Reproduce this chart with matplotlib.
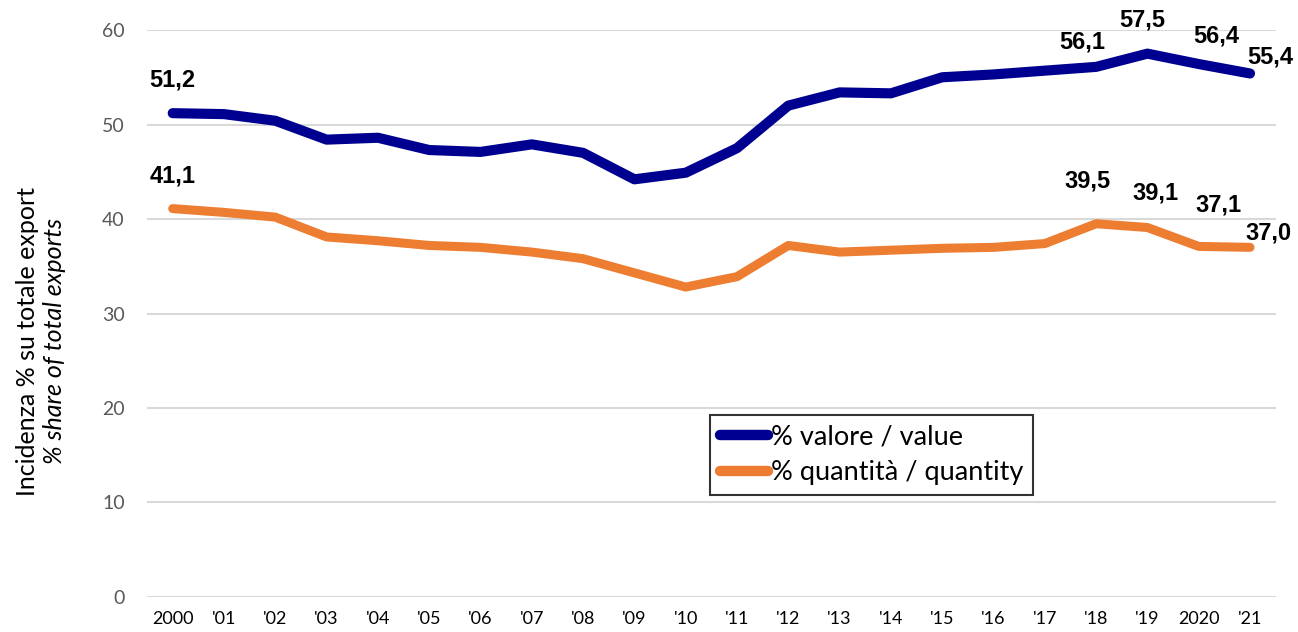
import matplotlib.pyplot as plt

plt.rcParams['font.family'] = ['Lato', 'DejaVu Sans']

years = ['2000', "'01", "'02", "'03", "'04", "'05", "'06", "'07", "'08", "'09", "'10",
         "'11", "'12", "'13", "'14", "'15", "'16", "'17", "'18", "'19", '2020', "'21"]
valore = [51.2, 51.1, 50.4, 48.4, 48.6, 47.3, 47.1, 47.9, 47.0, 44.2, 44.9,
          47.5, 52.0, 53.4, 53.3, 55.0, 55.3, 55.7, 56.1, 57.5, 56.4, 55.4]
quantita = [41.1, 40.7, 40.2, 38.1, 37.7, 37.2, 37.0, 36.5, 35.8, 34.3, 32.8,
            33.9, 37.2, 36.5, 36.7, 36.9, 37.0, 37.4, 39.5, 39.1, 37.1, 37.0]

# which points get a value label, and pixel offsets of the label
lab_idx = [0, 18, 19, 20, 21]
off_val = [(0, 33), (-14, 25), (-5, 34), (18, 28), (20, 16)]
off_qty = [(0, 33), (-9, 43), (8, 35), (20, 41), (18, 14)]

blue = '#000090'
orange = '#ED7D31'

fig = plt.figure(figsize=(12.98, 6.32), dpi=100)
ax = fig.add_axes([0.1133, 0.0554, 0.8695, 0.8971])

x = range(len(years))
ax.plot(x, valore, color=blue, lw=7.3, solid_capstyle='round', solid_joinstyle='round',
        label='% valore / value', zorder=3)
ax.plot(x, quantita, color=orange, lw=6.5, solid_capstyle='round', solid_joinstyle='round',
        label='% quantità / quantity', zorder=3)

for i, o in zip(lab_idx, off_val):
    ax.annotate(f'{valore[i]:.1f}'.replace('.', ','), (i, valore[i]), xytext=o,
                textcoords='offset pixels', ha='center', va='center',
                fontsize=17, fontweight='bold', family='Liberation Sans',
                annotation_clip=False)
for i, o in zip(lab_idx, off_qty):
    ax.annotate(f'{quantita[i]:.1f}'.replace('.', ','), (i, quantita[i]), xytext=o,
                textcoords='offset pixels', ha='center', va='center',
                fontsize=17, fontweight='bold', family='Liberation Sans',
                annotation_clip=False)

ax.set_xlim(-0.5, len(years) - 0.5)
ax.set_ylim(0, 60)
ax.set_yticks(range(0, 61, 10))
ax.set_xticks(list(x))
ax.set_xticklabels(years)
ax.tick_params(axis='y', length=0, pad=16, labelsize=14, labelcolor='#595959')
ax.tick_params(axis='x', length=0, pad=10, labelsize=13, labelcolor='black')
ax.grid(axis='y', color='#D9D9D9', lw=1.5)
ax.set_axisbelow(True)
for s in ax.spines.values():
    s.set_visible(False)

leg = ax.legend(loc='upper left', bbox_to_anchor=(0.499, 0.321), fontsize=19.5,
                frameon=True, fancybox=False, edgecolor='black', handlelength=1.8,
                handletextpad=0.1, borderpad=0.35, labelspacing=0.4,
                borderaxespad=0)
leg.get_frame().set_linewidth(1.5)
for h in leg.get_lines():
    h.set_linewidth(7.5)

fig.text(0.021, 0.46, 'Incidenza % su totale export', rotation=90, ha='center',
         va='center', fontsize=18)
fig.text(0.042, 0.46, '% share of total exports', rotation=90, ha='center',
         va='center', fontsize=18, style='italic')

fig.savefig('out.png', dpi=100)
